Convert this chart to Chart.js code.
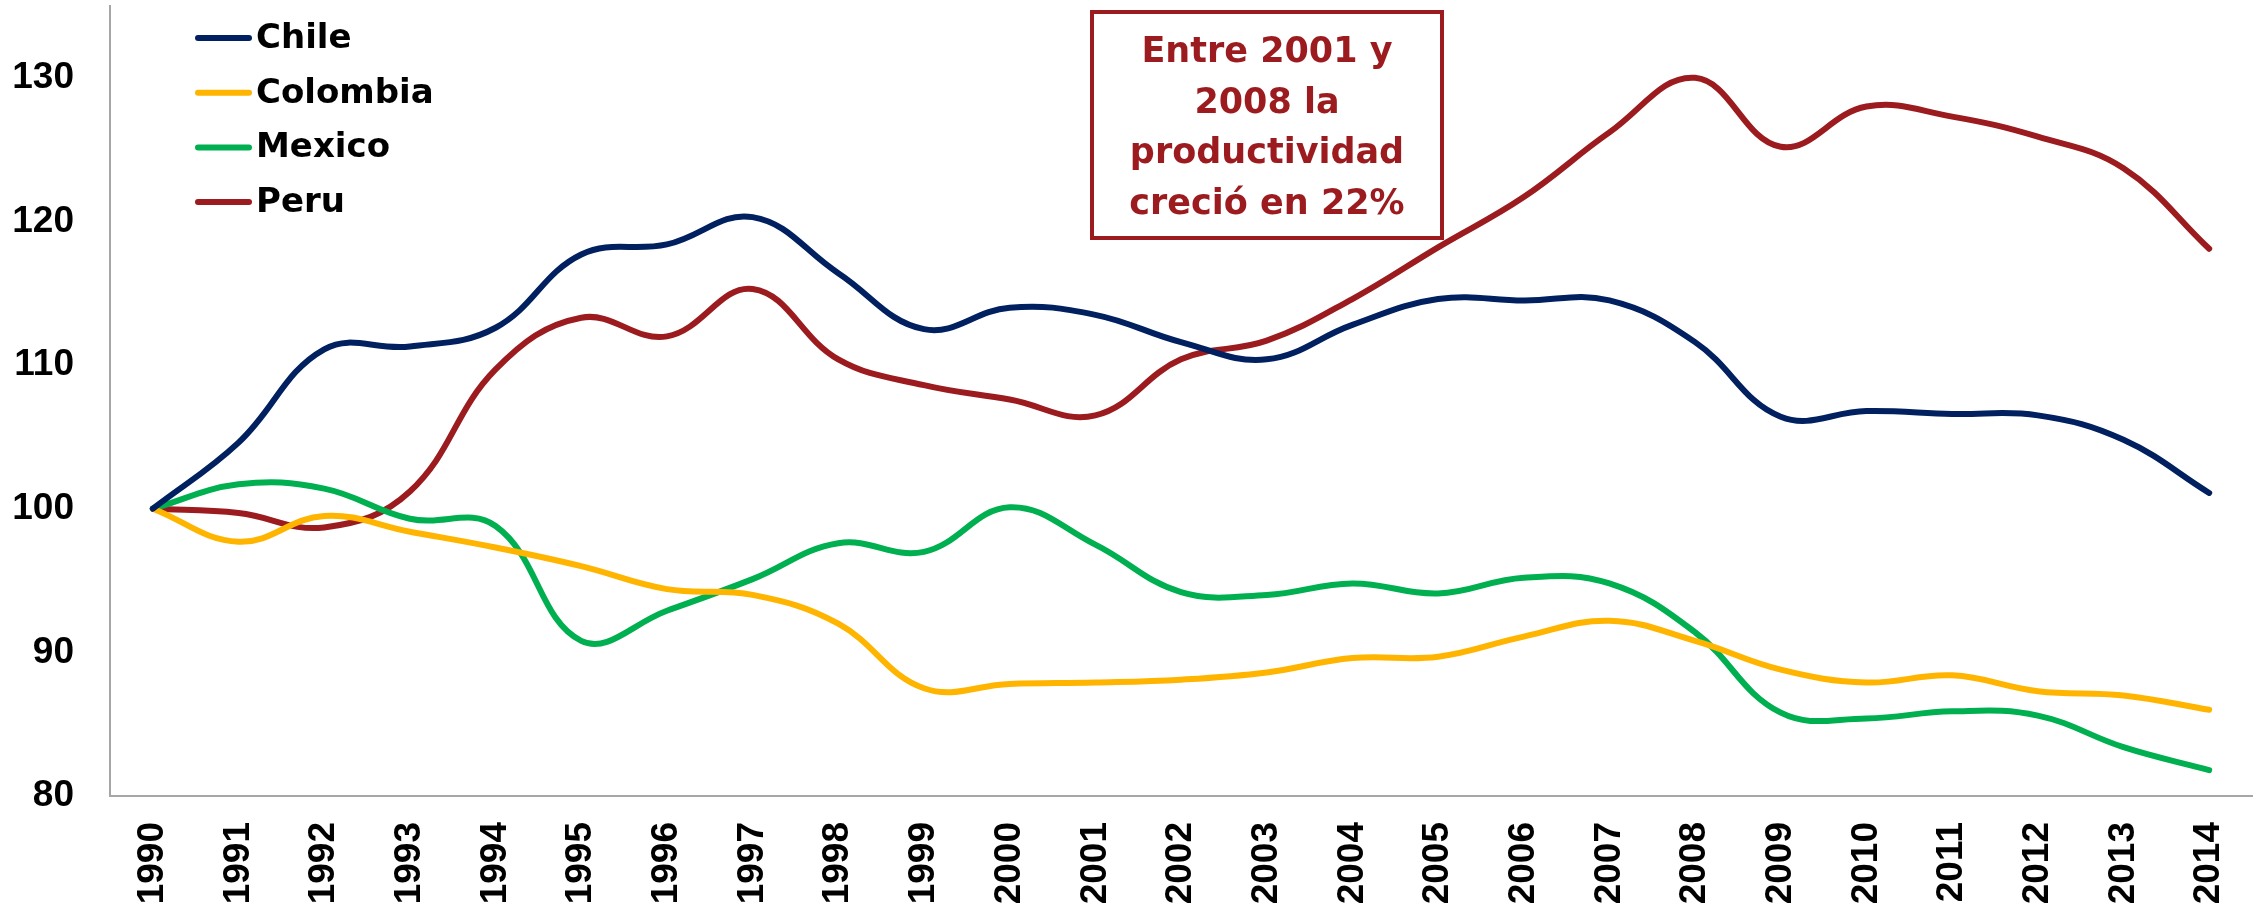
<!DOCTYPE html>
<html>
<head>
<meta charset="utf-8">
<script src="https://cdn.jsdelivr.net/npm/chart.js@4/dist/chart.umd.min.js"></script>
<style>
  html, body { margin: 0; padding: 0; background: #ffffff; }
  #wrap { width: 2256px; height: 907px; }
</style>
</head>
<body>
<div id="wrap"><canvas id="c" width="2256" height="907"></canvas></div>
<script>
const years = ["1990","1991","1992","1993","1994","1995","1996","1997","1998","1999","2000","2001","2002","2003","2004","2005","2006","2007","2008","2009","2010","2011","2012","2013","2014"];
const chile    = [100, 104.6, 111.1, 111.3, 112.6, 117.7, 118.4, 120.3, 116.4, 112.5, 114.0, 113.5, 111.6, 110.4, 112.8, 114.6, 114.5, 114.5, 111.6, 106.4, 106.8, 106.6, 106.5, 104.8, 101.1];
const colombia = [100, 97.7, 99.5, 98.4, 97.3, 96.0, 94.4, 94.0, 92.0, 87.5, 87.8, 87.9, 88.1, 88.6, 89.6, 89.7, 91.1, 92.2, 90.8, 88.8, 87.9, 88.4, 87.3, 87.0, 86.0];
const mexico   = [100, 101.7, 101.4, 99.3, 98.8, 90.8, 92.9, 95.1, 97.6, 97.0, 100.1, 97.5, 94.2, 94.0, 94.8, 94.1, 95.2, 94.8, 91.4, 85.8, 85.4, 85.9, 85.6, 83.4, 81.8];
const peru     = [100, 99.7, 98.7, 101.2, 109.7, 113.3, 112.0, 115.3, 110.4, 108.6, 107.6, 106.5, 110.4, 111.7, 114.6, 118.2, 121.7, 126.2, 130.0, 125.2, 128.0, 127.3, 125.9, 123.7, 118.1];
const seriesNames = ["Chile", "Colombia", "Mexico", "Peru"];
const yTicksMin = 80, yTicksMax = 135, yStep = 10;
const noteLines = ["Entre 2001 y", "2008 la", "productividad", "creció en 22%"];

const colors = ["#002060", "#FFB500", "#00B050", "#9B1B1F"];
const seriesData = [chile, colombia, mexico, peru];

const legendPlugin = {
  id: 'insideLegend',
  afterDraw(chart) {
    const ctx = chart.ctx;
    ctx.save();
    chart.data.datasets.forEach((ds, i) => {
      const y = 38 + i * 54.7;
      ctx.strokeStyle = ds.borderColor;
      ctx.lineWidth = 6;
      ctx.lineCap = 'round';
      ctx.beginPath();
      ctx.moveTo(198, y);
      ctx.lineTo(249, y);
      ctx.stroke();
      ctx.fillStyle = '#000000';
      ctx.font = 'bold 34px "DejaVu Sans"';
      ctx.textAlign = 'left';
      ctx.textBaseline = 'middle';
      ctx.fillText(ds.label, 256, y + 1);
    });
    ctx.restore();
  }
};

const notePlugin = {
  id: 'noteBox',
  afterDatasetsDraw(chart) {
    const ctx = chart.ctx;
    ctx.save();
    const x0 = 1092, y0 = 12, w = 350, h = 226;
    ctx.fillStyle = '#ffffff';
    ctx.fillRect(x0, y0, w, h);
    ctx.strokeStyle = '#9B1B1F';
    ctx.lineWidth = 4;
    ctx.strokeRect(x0, y0, w, h);
    ctx.fillStyle = '#9B1B1F';
    ctx.font = 'bold 35px "DejaVu Sans"';
    ctx.textAlign = 'center';
    ctx.textBaseline = 'middle';
    noteLines.forEach((t, i) => {
      ctx.fillText(t, x0 + w / 2, 53 + i * 50.7);
    });
    ctx.restore();
  }
};

new Chart(document.getElementById('c'), {
  type: 'line',
  data: {
    labels: years,
    datasets: seriesNames.map((n, i) => ({
      label: n,
      data: seriesData[i],
      borderColor: colors[i],
      backgroundColor: colors[i],
      borderWidth: 6,
      pointRadius: 0,
      tension: 0.4,
      fill: false,
      borderCapStyle: 'round',
      borderJoinStyle: 'round'
    }))
  },
  options: {
    responsive: false,
    animation: false,
    devicePixelRatio: 1,
    layout: { padding: { top: 6, right: 4, left: 0, bottom: 0 } },
    plugins: {
      legend: { display: false },
      tooltip: { enabled: false }
    },
    scales: {
      x: {
        type: 'category',
        offset: true,
        grid: { display: false, drawTicks: false },
        border: { display: true, color: '#A6A6A6', width: 2 },
        ticks: {
          autoSkip: false,
          maxRotation: 90,
          minRotation: 90,
          padding: 26,
          color: '#000000',
          font: { family: '"Liberation Sans", Arial, sans-serif', weight: 'bold', size: 37 }
        },
        afterFit(s) { s.height = 111; s.paddingLeft = 0; s.paddingRight = 0; }
      },
      y: {
        min: yTicksMin,
        max: yTicksMax,
        grid: { display: false, drawTicks: false },
        border: { display: true, color: '#A6A6A6', width: 2 },
        ticks: {
          stepSize: yStep,
          includeBounds: false,
          padding: 36,
          color: '#000000',
          font: { family: '"Liberation Sans", Arial, sans-serif', weight: 'bold', size: 37 }
        },
        afterFit(s) { s.width = 110; s.paddingTop = 0; s.paddingBottom = 0; }
      }
    }
  },
  plugins: [legendPlugin, notePlugin]
});
</script>
</body>
</html>
